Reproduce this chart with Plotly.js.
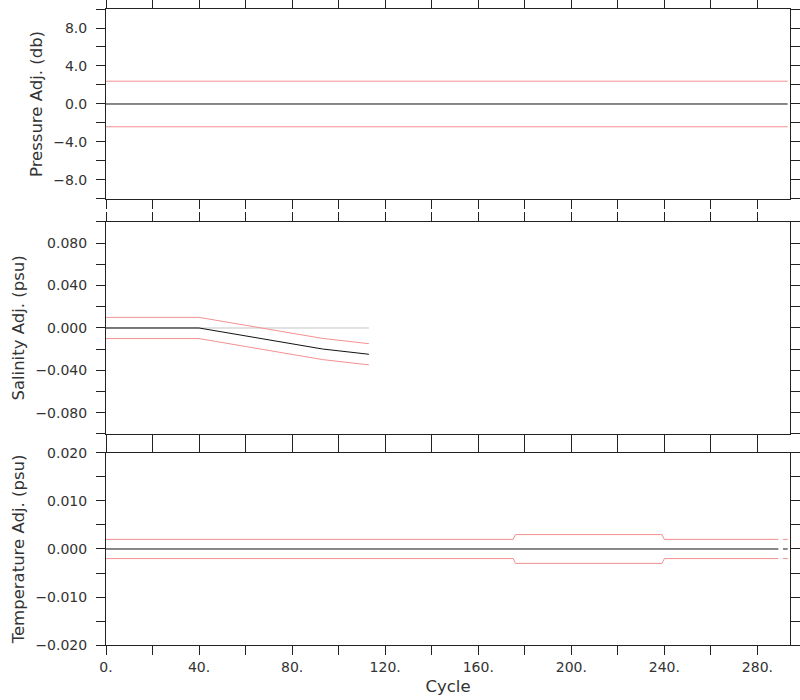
<!DOCTYPE html>
<html>
<head>
<meta charset="utf-8">
<script src="https://cdn.plot.ly/plotly-3.0.1.min.js"></script>
<style>html,body{margin:0;padding:0;background:#fff;}#chart{width:800px;height:700px;}</style>
</head>
<body>
<div id="chart"></div>
<script>
// ---- Data ----
const pCycles = [0, 175, 176, 239, 240, 293];
const pAdj    = [0, 0, 0, 0, 0, 0];
const pErrUp  = [2.4, 2.4, 2.43, 2.43, 2.4, 2.4];
const pErrLo  = [-2.4, -2.4, -2.43, -2.43, -2.4, -2.4];

const sRawCycles = [0, 113];
const sRaw       = [0, 0];
const sCycles = [0, 40, 93, 113];
const sAdj    = [0, 0, -0.0198, -0.0248];
const sErrUp  = [0.01, 0.01, -0.0098, -0.0148];
const sErrLo  = [-0.01, -0.01, -0.0298, -0.0348];

const tCycles = [0, 175, 176, 239, 240, 289, 290, 291, 293];
const tAdj    = [0, 0, 0, 0, 0, 0, null, 0, 0];
const tErrUp  = [0.002, 0.002, 0.003, 0.003, 0.002, 0.002, null, 0.002, 0.002];
const tErrLo  = [-0.002, -0.002, -0.003, -0.003, -0.002, -0.002, null, -0.002, -0.002];

const xTickVals = [0,20,40,60,80,100,120,140,160,180,200,220,240,260,280];
const xTickText = ["0.","","40.","","80.","","120.","","160.","","200.","","240.","","280."];
const pTickVals = [-10,-8,-6,-4,-2,0,2,4,6,8,10];
const pTickText = ["","−8.0","","−4.0","","0.0","","4.0","","8.0",""];
const sTickVals = [-0.1,-0.08,-0.06,-0.04,-0.02,0,0.02,0.04,0.06,0.08,0.1];
const sTickText = ["","−0.080","","−0.040","","0.000","","0.040","","0.080",""];
const tTickVals = [-0.02,-0.015,-0.01,-0.005,0,0.005,0.01,0.015,0.02];
const tTickText = ["−0.020","","−0.010","","0.000","","0.010","","0.020"];

// ---- Styles ----
const RED = '#f59090';
const BLK = '#111111';
const GRY = '#c4c4c4';
function tr(x, y, xa, ya, color) {
  return {x: x, y: y, xaxis: xa, yaxis: ya, type: 'scatter', mode: 'lines',
          line: {color: color, width: 1}, connectgaps: false, hoverinfo: 'skip', showlegend: false};
}
const traces = [
  tr(pCycles, pErrUp, 'x', 'y', RED),
  tr(pCycles, pErrLo, 'x', 'y', RED),
  tr(pCycles, pAdj, 'x', 'y', BLK),
  tr(sRawCycles, sRaw, 'x2', 'y2', GRY),
  tr(sCycles, sErrUp, 'x2', 'y2', RED),
  tr(sCycles, sErrLo, 'x2', 'y2', RED),
  tr(sCycles, sAdj, 'x2', 'y2', BLK),
  tr(tCycles, tErrUp, 'x3', 'y3', RED),
  tr(tCycles, tErrLo, 'x3', 'y3', RED),
  tr(tCycles, tAdj, 'x3', 'y3', BLK)
];

const font = {family: 'DejaVu Sans, sans-serif', size: 14, color: '#333'};
const tfont = {family: 'DejaVu Sans, sans-serif', size: 16.5, color: '#333'};
function xax(anchor, labels) {
  return {anchor: anchor, range: [0, 294], tickmode: 'array', tickvals: xTickVals, ticktext: xTickText,
          showticklabels: labels, ticks: 'outside', ticklen: 9, tickwidth: 1, tickcolor: '#222',
          showline: true, linecolor: '#222', linewidth: 1, mirror: 'allticks', showgrid: false, zeroline: false,
          tickfont: font, fixedrange: true};
}
function yax(anchor, domain, range, vals, text, title) {
  return {anchor: anchor, domain: domain, range: range, tickmode: 'array', tickvals: vals, ticktext: text,
          ticks: 'outside', ticklen: 9, tickwidth: 1, tickcolor: '#222', ticklabelstandoff: 6,
          showline: true, linecolor: '#222', linewidth: 1, mirror: 'allticks', showgrid: false, zeroline: false,
          tickfont: font, title: {text: title, font: tfont, standoff: 6}, fixedrange: true};
}

const X1 = xax('y', false);
const X2 = xax('y2', false); X2.matches = 'x';
const X3 = xax('y3', true); X3.matches = 'x';
X3.title = {text: 'Cycle', font: tfont, standoff: 6};

const layout = {
  width: 800, height: 700,
  margin: {l: 106, r: 10, t: 9, b: 55},
  paper_bgcolor: '#fff', plot_bgcolor: '#fff',
  showlegend: false,
  xaxis: X1, xaxis2: X2, xaxis3: X3,
  yaxis: yax('x', [0.7013, 1], [-10, 10], pTickVals, pTickText, 'Pressure Adj. (db)'),
  yaxis2: yax('x2', [0.3318, 0.6651], [-0.1, 0.1], sTickVals, sTickText, 'Salinity Adj. (psu)'),
  yaxis3: yax('x3', [0, 0.3019], [-0.02, 0.02], tTickVals, tTickText, 'Temperature Adj. (psu)')
};

Plotly.newPlot('chart', traces, layout, {staticPlot: true, displayModeBar: false});
</script>
</body>
</html>
